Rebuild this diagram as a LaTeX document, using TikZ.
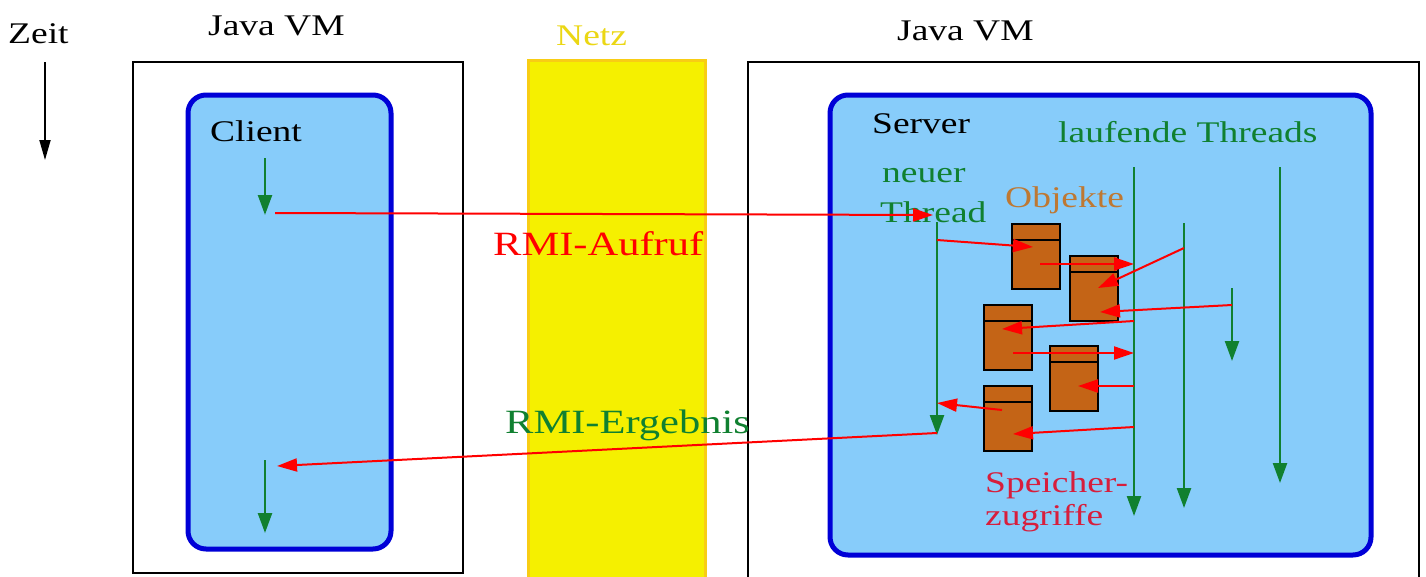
\documentclass[tikz,border=0pt]{standalone}
\usepackage{fontspec}
\setmainfont[FakeStretch=1.25]{Liberation Serif}
\usepackage{xcolor}
\usetikzlibrary{arrows.meta}

\definecolor{procblue}{RGB}{0,0,215}
\definecolor{procfill}{RGB}{135,204,250}
\definecolor{netzyellow}{RGB}{245,240,0}
\definecolor{netzedge}{RGB}{248,205,20}
\definecolor{netztext}{RGB}{235,215,20}
\definecolor{thgreen}{RGB}{16,128,48}
\definecolor{objbrown}{RGB}{196,100,22}
\definecolor{objtext}{RGB}{190,120,50}
\definecolor{memred}{RGB}{215,30,60}

\begin{document}
\begin{tikzpicture}[
  x=1pt, y=-1pt,
  every node/.style={font=\fontsize{30}{34}\selectfont, inner sep=0pt, anchor=base west},
  vm/.style={draw=black, line width=1.6pt},
  proc/.style={draw=procblue, fill=procfill, line width=5pt, rounded corners=18pt},
  netz/.style={draw=netzedge, fill=netzyellow, line width=3pt},
  obj/.style={draw=black, fill=objbrown, line width=2pt, anchor=center,
    minimum width=48pt, minimum height=65pt,
    path picture={\draw[line width=2pt] ([yshift=-16pt]path picture bounding box.north west)
      -- ([yshift=-16pt]path picture bounding box.north east);}},
  thread/.style={draw=thgreen, line width=2.4pt, -{Triangle[length=20pt, width=14pt]}},
  access/.style={draw=red, line width=2pt, -{Triangle[length=20pt, width=13pt]}},
  zeitarr/.style={draw=black, line width=1.8pt, -{Triangle[length=20pt, width=11pt]}},
  rmi/.style={font=\fontsize{34}{38}\selectfont},
]
 \fill[white] (0,0) rectangle (1426,576);
 \useasboundingbox (0,0) rectangle (1426,576);

 % ---- headings ----
 \node (zeit) at (8,43) {Zeit};
 \node (vmleft) at (208,35) {Java VM};
 \node[text=netztext] (netzlbl) at (556,45) {Netz};
 \node (vmright) at (897,40) {Java VM};

 \coordinate (zeittop) at (45,62);
 \coordinate (zeitbot) at (45,160);
 \draw[zeitarr] (zeittop) -- (zeitbot);

 % ---- frames ----
 \draw[vm] (133,62) rectangle (463,573);
 \draw[vm] (748,580) -- (748,62) -- (1419,62) -- (1419,580);
 \draw[netz] (528,60) rectangle (705,580);
 \draw[proc] (188,95) rectangle (391,549);
 \draw[proc] (830,95) rectangle (1371,555);

 % ---- client side ----
 \node (client) at (210,141) {Client};
 \coordinate (c1s) at (265,158);
 \coordinate (c1e) at (265,215);
 \coordinate (c2s) at (265,460);
 \coordinate (c2e) at (265,533);
 \draw[thread] (c1s) -- (c1e);
 \draw[thread] (c2s) -- (c2e);

 % ---- server side ----
 \node (server) at (872,133) {Server};
 \node[text=thgreen] (laufend) at (1058,142) {laufende Threads};
 \node[text=thgreen] (neuer) at (882,182) {neuer};
 \node[text=thgreen] (thread) at (880,222) {Thread};
 \node[text=objtext] (objekte) at (1005,207) {Objekte};

 \node[obj] (objA) at (1036,256.5) {};
 \node[obj] (objB) at (1093.5,288.5) {};
 \node[obj] (objC) at (1007.5,337) {};
 \node[obj] (objD) at (1074,378.5) {};
 \node[obj] (objE) at (1007.5,418.5) {};

 % threads
 \coordinate (nts) at (937,222);
 \coordinate (nte) at (937,435);
 \coordinate (t1s) at (1134,167);
 \coordinate (t1e) at (1134,516);
 \coordinate (t2s) at (1184,223);
 \coordinate (t2e) at (1184,508);
 \coordinate (t3s) at (1232,288);
 \coordinate (t3e) at (1232,361);
 \coordinate (t4s) at (1280,167);
 \coordinate (t4e) at (1280,483);
 \draw[thread] (nts) -- (nte);
 \draw[thread] (t1s) -- (t1e);
 \draw[thread] (t2s) -- (t2e);
 \draw[thread] (t3s) -- (t3e);
 \draw[thread] (t4s) -- (t4e);

 % memory accesses
 \draw[access] (937,240) -- (1033,247);
 \draw[access] (1040,264) -- (1134,264);
 \draw[access] (1184,248) -- (1098,288);
 \draw[access] (1232,305) -- (1100,312);
 \draw[access] (1134,321) -- (1002,329);
 \draw[access] (1013,353) -- (1134,353);
 \draw[access] (1134,386) -- (1078,386);
 \draw[access] (1002,410) -- (937,403);
 \draw[access] (1134,427) -- (1013,434);

 \node[text=memred] (speicher) at (985,492) {Speicher-};
 \node[text=memred] (zugriffe) at (985,525) {zugriffe};

 % ---- remote call ----
 \coordinate (callfrom) at (275,213);
 \coordinate (callto) at (933,215);
 \coordinate (retfrom) at (937,433);
 \coordinate (retto) at (277,466);
 \draw[access] (callfrom) -- (callto);
 \draw[access] (retfrom) -- (retto);
 \node[rmi, text=red] (aufruf) at (493,255) {RMI-Aufruf};
 \node[rmi, text=thgreen] (ergebnis) at (505,433) {RMI-Ergebnis};

\end{tikzpicture}
\end{document}
